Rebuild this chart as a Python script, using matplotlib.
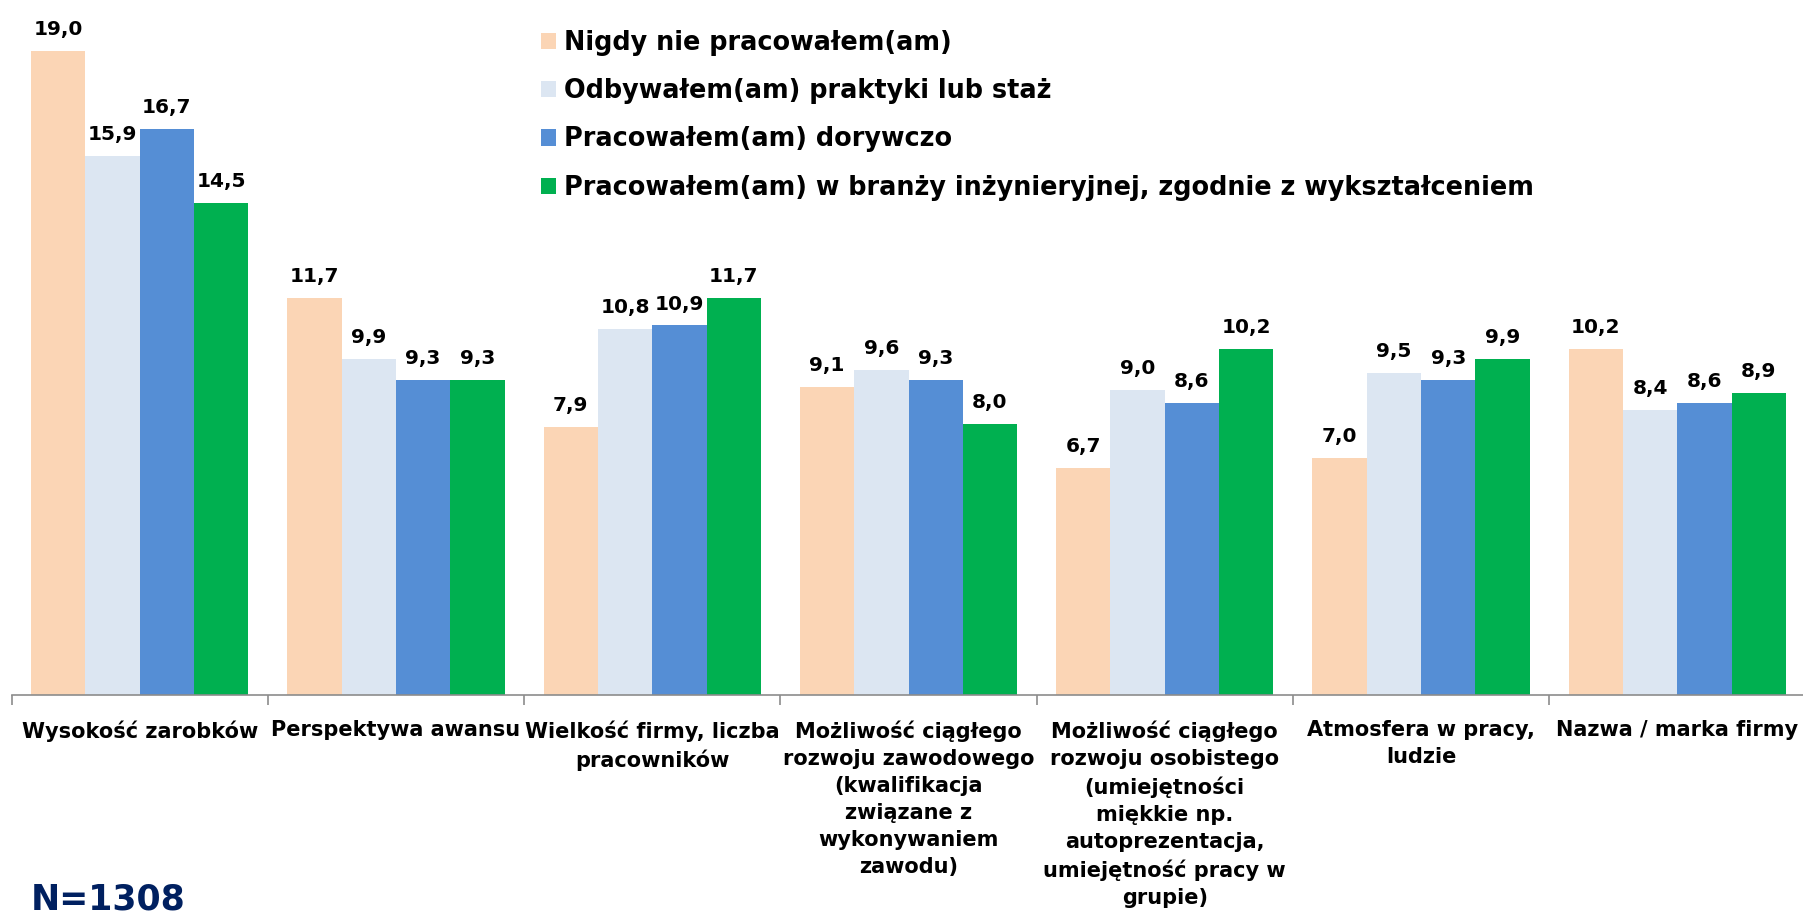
import matplotlib
matplotlib.use("Agg")
import matplotlib.pyplot as plt
import numpy as np

categories = [
    "Wysokość zarobków",
    "Perspektywa awansu",
    "Wielkość firmy, liczba\npracowników",
    "Możliwość ciągłego\nrozwoju zawodowego\n(kwalifikacja\nzwiązane z\nwykonywaniem\nzawodu)",
    "Możliwość ciągłego\nrozwoju osobistego\n(umiejętności\nmiękkie np.\nautoprezentacja,\numiejętność pracy w\ngrupie)",
    "Atmosfera w pracy,\nludzie",
    "Nazwa / marka firmy",
]
series_names = [
    "Nigdy nie pracowałem(am)",
    "Odbywałem(am) praktyki lub staż",
    "Pracowałem(am) dorywczo",
    "Pracowałem(am) w branży inżynieryjnej, zgodnie z wykształceniem",
]
nigdy = [19.0, 11.7, 7.9, 9.1, 6.7, 7.0, 10.2]
praktyki = [15.9, 9.9, 10.8, 9.6, 9.0, 9.5, 8.4]
dorywczo = [16.7, 9.3, 10.9, 9.3, 8.6, 9.3, 8.6]
branza = [14.5, 9.3, 11.7, 8.0, 10.2, 9.9, 8.9]
series_values = [nigdy, praktyki, dorywczo, branza]
colors = ["#FBD5B5", "#DCE6F2", "#558ED5", "#00B050"]
sample_note = "N=1308"

plt.rcParams['font.family'] = ['DejaVu Sans']
W, H = 1803, 917
fig = plt.figure(figsize=(W / 100, H / 100), dpi=100)
ax = fig.add_axes([11.5 / W, (H - 695) / H, 1794 / W, 678 / H])

n_cat = len(categories)
x = np.arange(n_cat)
bw = 0.212
for i, (vals, col, name) in enumerate(zip(series_values, colors, series_names)):
    pos = x + (i - 1.5) * bw
    bars = ax.bar(pos, vals, width=bw, color=col, label=name, linewidth=0)
    for b, v in zip(bars, vals):
        ax.annotate(f"{v:.1f}".replace('.', ','), (b.get_x() + b.get_width() / 2, v),
                    xytext=(0, 11.5), textcoords='offset points', ha='center', va='baseline',
                    fontsize=14.5, fontweight='bold', color='black')

ax.set_xlim(-0.5, n_cat - 0.5)
ax.set_ylim(0, 20)
for s in ['top', 'right', 'left']:
    ax.spines[s].set_visible(False)
ax.spines['bottom'].set_color('#8C8C8C')
ax.spines['bottom'].set_linewidth(1.2)
ax.set_yticks([])
ax.set_xticks(np.arange(n_cat + 1) - 0.5)
ax.set_xticklabels([])
ax.tick_params(axis='x', which='major', length=7, width=1.2, color='#8C8C8C', direction='out')
ax.set_xticks(x, minor=True)
ax.set_xticklabels(categories, minor=True, fontsize=15, fontweight='bold', linespacing=1.44, ha='center', va='top')
ax.tick_params(axis='x', which='minor', length=0, pad=18)

leg = ax.legend(loc='upper left', bbox_to_anchor=(541 / W, 1 - 30 / H), bbox_transform=fig.transFigure,
                frameon=False, prop={'weight': 'bold', 'size': 18.4},
                handlelength=0.6, handleheight=0.6, handletextpad=0.3, labelspacing=0.87,
                borderpad=0, borderaxespad=0)

fig.text(31 / W, 7 / H, sample_note, fontsize=25, fontweight='bold', color='#002060', ha='left', va='baseline')

fig.savefig("out.png", dpi=100)
